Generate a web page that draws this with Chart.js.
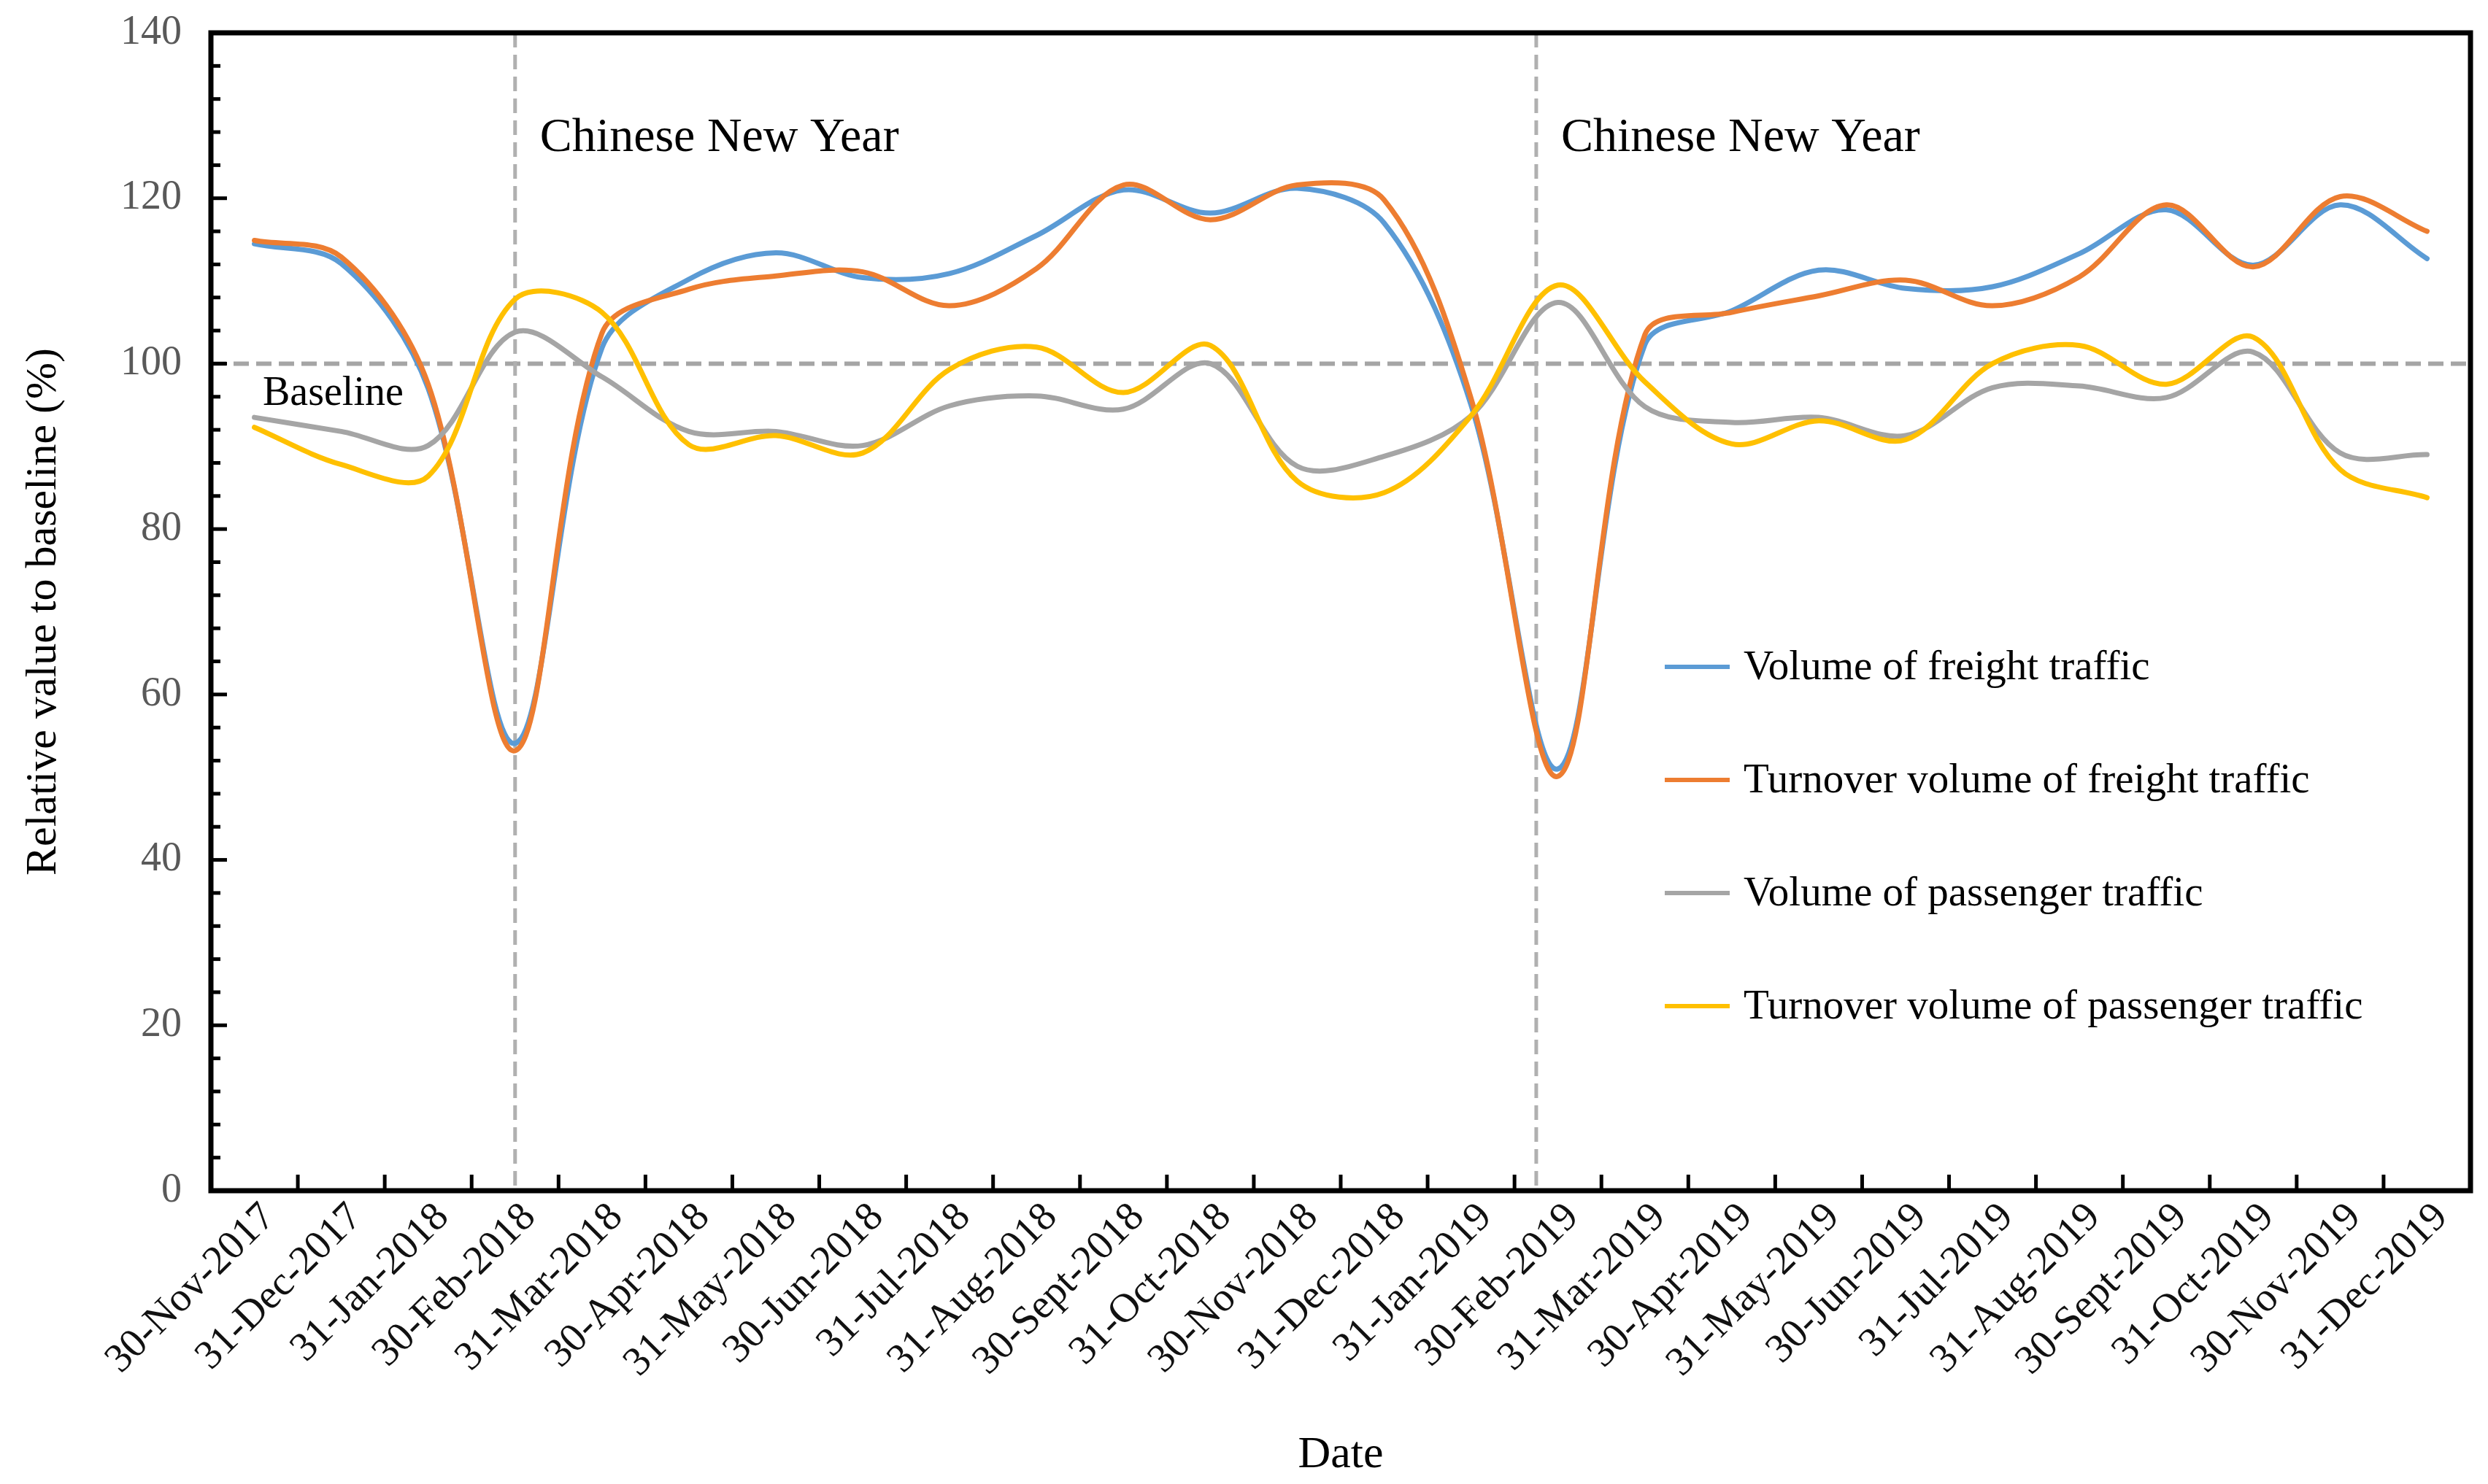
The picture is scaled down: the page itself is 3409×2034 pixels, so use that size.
<!DOCTYPE html>
<html>
<head>
<meta charset="utf-8">
<script src="https://cdn.jsdelivr.net/npm/chart.js@4.4.1/dist/chart.umd.min.js"></script>
<style>
  html, body { margin: 0; padding: 0; background: #fff; }
</style>
</head>
<body>
<canvas id="chart1" width="3409" height="2034"></canvas>

<script>
    const dates = ['30-Nov-2017', '31-Dec-2017', '31-Jan-2018', '30-Feb-2018', '31-Mar-2018', '30-Apr-2018',
        '31-May-2018', '30-Jun-2018', '31-Jul-2018', '31-Aug-2018', '30-Sept-2018', '31-Oct-2018',
        '30-Nov-2018', '31-Dec-2018', '31-Jan-2019', '30-Feb-2019', '31-Mar-2019', '30-Apr-2019',
        '31-May-2019', '30-Jun-2019', '31-Jul-2019', '31-Aug-2019', '30-Sept-2019', '31-Oct-2019',
        '30-Nov-2019', '31-Dec-2019'];

    const freightVolume = [114.5, 112.1, 97.0, 54.1, 101.9, 110.2, 113.4, 110.4, 110.9, 115.5, 121.0, 118.2,
        121.2, 117.0, 95.0, 51.0, 102.3, 106.4, 111.3, 109.1, 109.3, 113.3, 118.6, 111.9, 119.2, 112.7];
    const freightTurnover = [114.9, 112.9, 97.5, 53.2, 103.7, 109.0, 110.6, 111.1, 107.0, 111.5, 121.6, 117.4,
        121.6, 119.8, 95.8, 50.1, 103.5, 106.2, 108.2, 110.1, 107.0, 110.5, 119.2, 111.7, 120.2, 116.0];
    const passengerVolume = [93.5, 91.8, 90.1, 103.8, 98.4, 91.8, 91.8, 90.1, 94.9, 96.1, 94.5, 100.0,
        87.6, 88.8, 93.7, 107.4, 94.8, 92.9, 93.5, 91.3, 97.1, 97.3, 95.9, 101.4, 89.2, 89.0];
    const passengerTurnover = [92.3, 87.8, 86.4, 107.8, 106.2, 90.2, 91.3, 89.2, 99.3, 102.0, 96.5, 102.2,
        85.8, 84.4, 93.7, 109.5, 97.8, 90.3, 93.1, 90.8, 100.0, 102.2, 97.5, 103.2, 87.2, 83.8];

    const seriesNames = ['Volume of freight traffic', 'Turnover volume of freight traffic',
        'Volume of passenger traffic', 'Turnover volume of passenger traffic'];
    const seriesColors = ['#5b9bd5', '#ed7d31', '#a5a5a5', '#ffc000'];

    // where the Chinese New Year markers sit on the category axis
    const newYearMarks = [3, 14.75];
    const baselineValue = 100;

    const serif = "'Liberation Serif', 'Times New Roman', 'DejaVu Serif', serif";

    const decorations = {
        id: 'decorations',
        beforeDatasetsDraw(chart) {
            const {ctx, chartArea: a, scales: {x, y}} = chart;
            ctx.save();
            ctx.strokeStyle = '#a5a5a5';
            ctx.lineWidth = 6;
            ctx.setLineDash([21, 10]);
            const yb = y.getPixelForValue(baselineValue);
            ctx.beginPath();
            ctx.moveTo(a.left, yb);
            ctx.lineTo(a.right, yb);
            ctx.stroke();

            ctx.strokeStyle = '#b0b0b0';
            ctx.lineWidth = 5;
            ctx.setLineDash([20, 10]);
            newYearMarks.forEach(v => {
                const px = x.getPixelForValue(v);
                ctx.beginPath();
                ctx.moveTo(px, a.top);
                ctx.lineTo(px, a.bottom);
                ctx.stroke();
            });
            ctx.restore();
        },
        afterDraw(chart) {
            const {ctx, chartArea: a, scales: {x, y}} = chart;
            ctx.save();

            // inside tick marks
            ctx.strokeStyle = '#000';
            ctx.lineWidth = 5;
            for (let i = 1; i < dates.length; i++) {
                const px = x.getPixelForValue(i - 0.5);
                ctx.beginPath();
                ctx.moveTo(px, a.bottom);
                ctx.lineTo(px, a.bottom - 22);
                ctx.stroke();
            }
            for (let v = 4; v < 140; v += 4) {
                const py = y.getPixelForValue(v);
                const len = v % 20 === 0 ? 22 : 13;
                ctx.beginPath();
                ctx.moveTo(a.left, py);
                ctx.lineTo(a.left + len, py);
                ctx.stroke();
            }

            // frame
            ctx.lineWidth = 7;
            ctx.strokeRect(a.left, a.top, a.right - a.left, a.bottom - a.top);

            // annotations
            ctx.fillStyle = '#000';
            ctx.textBaseline = 'middle';
            ctx.textAlign = 'left';
            ctx.font = '66px ' + serif;
            newYearMarks.forEach(v => {
                ctx.fillText('Chinese New Year', x.getPixelForValue(v) + 34, a.top + 145);
            });
            ctx.font = '56px ' + serif;
            ctx.fillText('Baseline', a.left + 71, y.getPixelForValue(baselineValue) + 42);

            // legend
            const lx = 2281, ly = 914, gap = 155;
            ctx.font = '57px ' + serif;
            seriesNames.forEach((name, i) => {
                const yy = ly + i * gap;
                ctx.strokeStyle = seriesColors[i];
                ctx.lineWidth = 6;
                ctx.beginPath();
                ctx.moveTo(lx, yy);
                ctx.lineTo(lx + 89, yy);
                ctx.stroke();
                ctx.fillStyle = '#000';
                ctx.fillText(name, lx + 108, yy + 2);
            });
            ctx.restore();
        }
    };

    const series = [freightVolume, freightTurnover, passengerVolume, passengerTurnover];

    function drawChart() {
        new Chart(document.getElementById('chart1'), {
            type: 'line',
            data: {
                labels: dates,
                datasets: series.map((values, i) => ({
                    label: seriesNames[i],
                    data: values,
                    borderColor: seriesColors[i],
                    backgroundColor: seriesColors[i]
                })).reverse()
            },
            options: {
                responsive: false,
                animation: false,
                devicePixelRatio: 1,
                layout: { padding: { top: 45, right: 24, left: 0, bottom: 0 } },
                plugins: { legend: { display: false }, tooltip: { enabled: false } },
                elements: {
                    point: { radius: 0 },
                    line: { tension: 0.34, borderWidth: 7, borderCapStyle: 'round', borderJoinStyle: 'round' }
                },
                scales: {
                    x: {
                        offset: true,
                        grid: { display: false, drawTicks: false },
                        border: { display: false },
                        ticks: {
                            autoSkip: false, minRotation: 45, maxRotation: 45, padding: 4, labelOffset: 20,
                            color: '#111', font: { family: serif, size: 56 }
                        },
                        title: {
                            display: true, text: 'Date', color: '#000',
                            font: { family: serif, size: 62, lineHeight: 1 }, padding: { top: 0, bottom: 8 }
                        },
                        afterFit: s => { s.height = 402; }
                    },
                    y: {
                        min: 0, max: 140,
                        grid: { display: false, drawTicks: false },
                        border: { display: false },
                        ticks: { stepSize: 20, padding: 40, color: '#595959', font: { family: serif, size: 56 } },
                        title: {
                            display: true, text: 'Relative value to baseline (%)', color: '#000',
                            font: { family: serif, size: 60 }, padding: { top: 24 }
                        },
                        afterFit: s => {
                            s.width = 289;
                            s.paddingTop = 0;
                            s.paddingBottom = 0;
                        }
                    }
                }
            },
            plugins: [decorations]
        });
    }

    Promise.all([
        document.fonts.load("56px 'Liberation Serif'"),
        document.fonts.load("56px 'DejaVu Serif'")
    ]).catch(() => {}).then(drawChart);
</script>
</body>
</html>
